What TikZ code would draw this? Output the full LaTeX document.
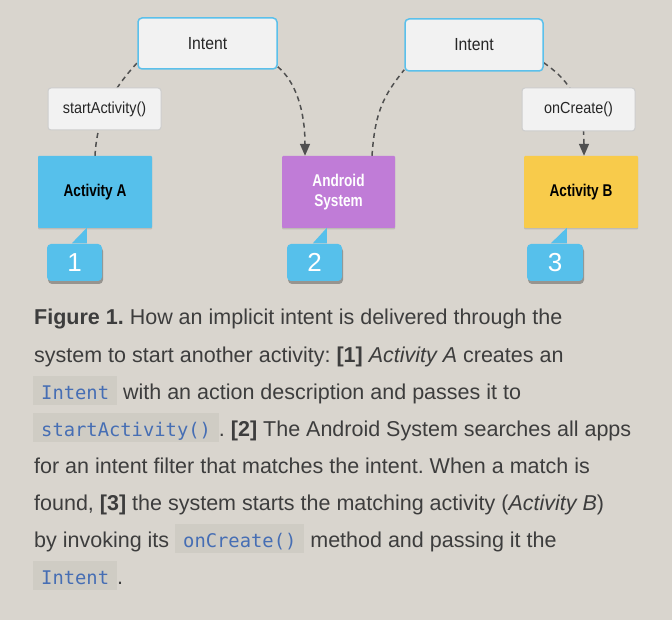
\documentclass[tikz,border=0pt]{standalone}
\usepackage{fontspec}
\setmainfont{Liberation Sans}
\newfontfamily\diafont{Liberation Sans}[FakeStretch=0.9]
\newfontfamily\condfont{Liberation Sans}[FakeStretch=0.8]
\newfontfamily\codefont{DejaVu Sans Mono}
\usetikzlibrary{arrows.meta,shadows}
\frenchspacing
\definecolor{bgc}{HTML}{D9D5CE}
\definecolor{boxfill}{HTML}{F2F2F2}
\definecolor{intentborder}{HTML}{5BC0EB}
\definecolor{lblborder}{HTML}{CDCDCD}
\definecolor{actablue}{HTML}{56C0EB}
\definecolor{purp}{HTML}{C07CD7}
\definecolor{yell}{HTML}{F8CB4B}
\definecolor{edgec}{HTML}{505050}
\definecolor{txt}{HTML}{3D3D3D}
\definecolor{codebg}{HTML}{CFCCC4}
\definecolor{codeblue}{HTML}{466EB4}
\newcommand\codebox[1]{{\setlength\fboxsep{0pt}\colorbox{codebg}{\rule[-6pt]{0pt}{29pt}\hspace{8pt}{\codefont\fontsize{18.8}{22}\selectfont\color{codeblue}#1}\hspace{8pt}}}}
\pgfdeclarelayer{bglayer}
\pgfdeclarelayer{edges}
\pgfsetlayers{bglayer,edges,main}
\tikzset{
  intentbox/.style={draw=intentborder, line width=1.5pt, fill=boxfill, rounded corners=4pt,
    minimum width=139pt, minimum height=51pt, inner sep=0pt, text=black!85,
    font=\diafont\fontsize{17.5}{20}\selectfont},
  lblbox/.style={draw=lblborder, line width=1pt, fill=boxfill, rounded corners=3pt,
    minimum width=113pt, minimum height=42pt, inner sep=0pt, text=black!85,
    font=\diafont\fontsize{16}{19}\selectfont},
  actbox/.style={minimum width=114pt, minimum height=72pt, inner sep=0pt, rounded corners=1pt,
    font=\condfont\bfseries\fontsize{17}{20}\selectfont, align=center,
    drop shadow={shadow xshift=0pt, shadow yshift=-1.5pt, opacity=0.12, fill=black}},
  callout/.style={fill=actablue, rounded corners=4pt, minimum width=55pt, minimum height=37pt,
    inner sep=0pt, text=white, font=\fontsize{26}{30}\selectfont,
    drop shadow={shadow xshift=1pt, shadow yshift=-3pt, opacity=0.3, fill=black}},
  conn/.style={draw=edgec, line width=1.5pt, dash pattern=on 5pt off 4pt},
  tip/.style={-{Triangle[length=12pt,width=10pt]}},
  capline/.style={anchor=base west, inner sep=0pt, text=txt, font=\fontsize{21.5}{25}\selectfont}
}
\begin{document}
\begin{tikzpicture}[x=1pt,y=-1pt]
\useasboundingbox (0,0) rectangle (672,620);
\begin{pgfonlayer}{bglayer}
\fill[bgc] (0,0) rectangle (672,620);
\end{pgfonlayer}

% nodes
\node[intentbox] (int1) at (207.5,43.5) {Intent};
\node[intentbox, minimum width=138pt, minimum height=52pt] (int2) at (474,45) {Intent};
\node[lblbox] (lblA) at (104.5,109) {startActivity()};
\node[lblbox, minimum height=43pt] (lblB) at (578.5,109.5) {onCreate()};
\node[actbox, fill=actablue, text=black] (actA) at (95,192) {Activity A};
\node[actbox, fill=purp, text=white, minimum width=113pt] (andr) at (338.5,192) {Android\\System};
\node[actbox, fill=yell, text=black] (actB) at (581,192) {Activity B};

\node[callout] (c1) at (74.5,262.5) {1};
\node[callout] (c2) at (314.5,262.5) {2};
\node[callout, minimum width=56pt] (c3) at (555,262.5) {3};
\foreach \c/\a in {c1/25,c2/26,c3/24}{
  \fill[actablue] ([xshift=\a pt, yshift=0.5pt]\c.north west) -- ([xshift=40pt, yshift=16pt]\c.north west) -- ([xshift=40pt, yshift=0.5pt]\c.north west) -- cycle;
}

% connectors
\begin{pgfonlayer}{edges}
\draw[conn] (actA.north) .. controls +(2,-40) and +(-24,26) .. ([yshift=7pt]int1.south west);
\draw[conn, tip] ([yshift=3pt]int1.south east) .. controls +(18,15) and +(0,-45) .. ([xshift=-33.5pt]andr.north);
\draw[conn] ([xshift=33.5pt]andr.north) .. controls +(3,-45) and +(-20,25) .. ([yshift=2pt]int2.south west);
\draw[conn, tip] ([yshift=9pt]int2.south east) .. controls +(20,14) and +(0,-60) .. ([xshift=3pt]actB.north);
\end{pgfonlayer}

% caption
\node[capline] (l1) at (34,325) {\textbf{Figure 1.} How an implicit intent is delivered through the};
\node[capline] (l2) at (34,362) {system to start another activity: \textbf{[1]} \textit{Activity A} creates an};
\node[capline] (l3) at (33,399) {\codebox{Intent} with an action description and passes it to};
\node[capline] (l4) at (33,436) {\codebox{startActivity()}. \textbf{[2]} The Android System searches all apps};
\node[capline] (l5) at (34,473) {for an intent filter that matches the intent. When a match is};
\node[capline] (l6) at (34,510) {found, \textbf{[3]} the system starts the matching activity (\textit{Activity B})};
\node[capline] (l7) at (34,547) {by invoking its \codebox{onCreate()} method and passing it the};
\node[capline] (l8) at (33,584) {\codebox{Intent}.};
\end{tikzpicture}
\end{document}
